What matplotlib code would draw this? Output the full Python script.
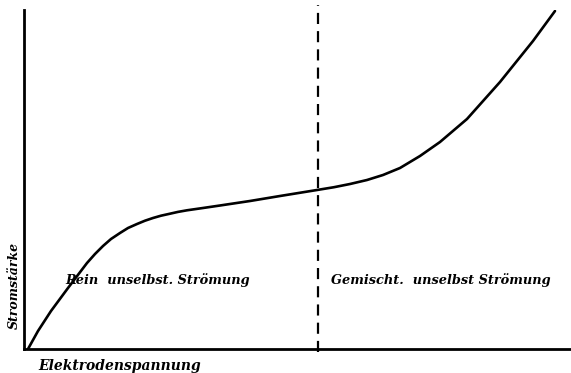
import matplotlib.pyplot as plt

# Current-voltage characteristic of a gas discharge (non-self-sustaining regime)
voltage = [4, 14, 27, 44, 63, 71, 79, 87, 96, 104, 113, 121, 129, 137, 146,
           154, 163, 179, 196, 226, 256, 293, 310, 326, 343, 359, 376, 396,
           416, 443, 476, 509, 531]
current = [0, 18, 38, 61, 86, 95, 103, 110, 116, 121, 125, 128.3, 131,
           133.3, 135.3, 137.1, 138.7, 141, 143.5, 148, 153, 159, 161.8,
           165, 169, 174, 181, 193, 207, 230, 267, 308, 338]
boundary = 294

fig = plt.figure(figsize=(5.71, 3.73), dpi=100)
ax = fig.add_axes([24 / 571, 24 / 373, 547 / 571, 339 / 373])

ax.plot(voltage, current, color="black", lw=1.9,
        solid_capstyle="round", solid_joinstyle="round")

ax.plot([boundary, boundary], [-3, 344], color="black", lw=1.6,
        ls=(0, (5, 3.2)), clip_on=False)

ax.set_xlim(0, 547)
ax.set_ylim(0, 339)
for side in ["top", "right"]:
    ax.spines[side].set_visible(False)
ax.spines["left"].set_linewidth(2.0)
ax.spines["bottom"].set_linewidth(2.0)
ax.set_xticks([])
ax.set_yticks([])

font = dict(family="DejaVu Serif", style="italic", weight="bold", color="black")
ax.text(41, 65, "Rein  unselbst. Strömung", fontsize=9.3, **font)
ax.text(307, 65, "Gemischt.  unselbst Strömung", fontsize=9.3, **font)
fig.text(38 / 571, 1 - 366 / 373, "Elektrodenspannung", fontsize=10,
         va="center", **font)
fig.text(14 / 571, 1 - 285 / 373, "Stromstärke", fontsize=9, rotation=90,
         va="center", ha="center", **font)

fig.savefig("out.png", dpi=100)
